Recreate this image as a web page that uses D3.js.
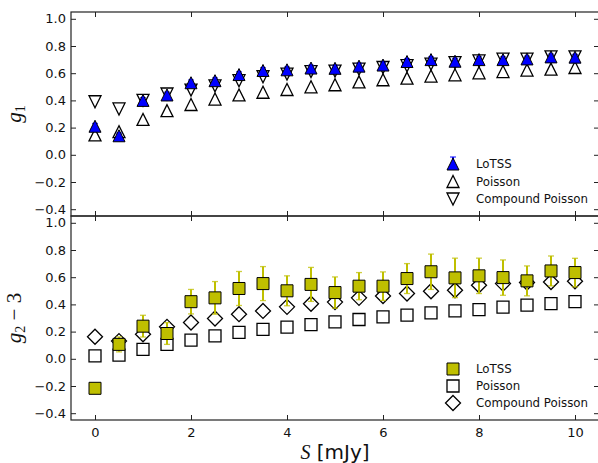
<!DOCTYPE html>
<html><head><meta charset="utf-8">
<script src="https://cdn.jsdelivr.net/npm/d3@7"></script>
<style>body{margin:0;background:#fff}svg{display:block}</style>
</head><body><svg id="c" width="598" height="463"></svg>
<script>
const S = [0,0.5,1,1.5,2,2.5,3,3.5,4,4.5,5,5.5,6,6.5,7,7.5,8,8.5,9,9.5,10];
const g1LoTSS    = [0.21,0.14,0.40,0.44,0.53,0.545,0.59,0.62,0.625,0.638,0.636,0.652,0.66,0.686,0.70,0.688,0.70,0.70,0.705,0.72,0.718];
const g1LoTSSErr = [0.02,0.02,0.02,0.02,0.02,0.02,0.02,0.02,0.02,0.02,0.02,0.02,0.02,0.02,0.02,0.02,0.02,0.02,0.02,0.02,0.02];
const g1Poisson  = [0.146,0.17,0.26,0.325,0.37,0.41,0.44,0.46,0.48,0.50,0.515,0.536,0.552,0.564,0.579,0.588,0.603,0.612,0.623,0.63,0.642];
const g1Compound = [0.39,0.337,0.40,0.447,0.476,0.507,0.545,0.574,0.593,0.612,0.615,0.63,0.642,0.655,0.667,0.678,0.69,0.703,0.703,0.72,0.72];
const g2LoTSS    = [-0.217,0.106,0.24,0.186,0.42,0.448,0.517,0.553,0.50,0.547,0.487,0.534,0.534,0.59,0.64,0.595,0.61,0.597,0.573,0.646,0.634];
const g2LoTSSErr = [0.0,0.055,0.08,0.08,0.09,0.12,0.125,0.125,0.11,0.125,0.115,0.10,0.105,0.11,0.13,0.145,0.13,0.13,0.11,0.11,0.105];
const g2Poisson  = [0.022,0.027,0.069,0.106,0.137,0.169,0.194,0.216,0.233,0.252,0.272,0.289,0.309,0.321,0.338,0.352,0.362,0.38,0.394,0.406,0.42];
const g2Compound = [0.162,0.13,0.18,0.235,0.267,0.296,0.328,0.352,0.382,0.405,0.417,0.448,0.462,0.48,0.497,0.504,0.541,0.553,0.561,0.565,0.57];
const xTicks = [0,2,4,6,8,10];
const yTicks = [-0.4,-0.2,0.0,0.2,0.4,0.6,0.8,1.0];
const legendLabels = ["LoTSS","Poisson","Compound Poisson"];

const svg = d3.select("#c");
const blue = "#0000ff", olive = "#bfbf00";
const L = 71, R = 599;
const x = d3.scaleLinear().domain([-0.5,10.5]).range([L,R]);
const panels = [
  {top:12, bottom:216},
  {top:216, bottom:420}
];
const font = "DejaVu Sans, sans-serif";

function triPath(size, down){
  const h = size/2;
  return down ? `M${-h},${-h}L${h},${-h}L0,${h}Z` : `M0,${-h}L${-h},${h}L${h},${h}Z`;
}
function sqPath(size){const h=size/2;return `M${-h},${-h}H${h}V${h}H${-h}Z`;}
function diaPath(size){const h=size/2;return `M0,${-h}L${h},0L0,${h}L${-h},0Z`;}

function drawPanel(p, i){
  const y = d3.scaleLinear().domain([-0.45,1.05]).range([p.bottom,p.top]);
  const g = svg.append("g");
  const ax = [
    d3.axisLeft(y).tickValues(yTicks).tickSize(-5).tickPadding(5).tickFormat(d3.format(".1f")),
    d3.axisRight(y).tickValues(yTicks).tickSize(-5).tickFormat(""),
  ];
  g.append("g").attr("transform",`translate(${L},0)`).call(ax[0]);
  g.append("g").attr("transform",`translate(${R},0)`).call(ax[1]);
  g.append("g").attr("transform",`translate(0,${p.bottom})`)
    .call(d3.axisBottom(x).tickValues(xTicks).tickSize(-5).tickPadding(8).tickFormat(i===1?d3.format("d"):""));
  g.append("g").attr("transform",`translate(0,${p.top})`)
    .call(d3.axisTop(x).tickValues(xTicks).tickSize(-5).tickFormat(""));
  g.selectAll(".domain").remove();
  g.selectAll(".tick line").attr("stroke","#222").attr("stroke-width",1);
  g.selectAll(".tick text").attr("font-family",font).attr("font-size",13).attr("fill","#111");
  g.append("rect").attr("x",L).attr("y",p.top).attr("width",R-L).attr("height",p.bottom-p.top)
    .attr("fill","none").attr("stroke","#222").attr("stroke-width",1.2);

  const data = i===0
    ? {lot:g1LoTSS, err:g1LoTSSErr, poi:g1Poisson, com:g1Compound}
    : {lot:g2LoTSS, err:g2LoTSSErr, poi:g2Poisson, com:g2Compound};
  const col = i===0 ? blue : olive;
  const lotPath = i===0 ? triPath(12,false) : sqPath(12);
  const poiPath = i===0 ? triPath(12,false) : sqPath(12);
  const comPath = i===0 ? triPath(12,true) : diaPath(15);

  const m = g.append("g");
  m.selectAll(".poi").data(S).enter().append("path")
    .attr("d",poiPath).attr("transform",(d,j)=>`translate(${x(d)},${y(data.poi[j])})`)
    .attr("fill","none").attr("stroke","#000").attr("stroke-width",1.3);
  m.selectAll(".com").data(S).enter().append("path")
    .attr("d",comPath).attr("transform",(d,j)=>`translate(${x(d)},${y(data.com[j])})`)
    .attr("fill","none").attr("stroke","#000").attr("stroke-width",1.3);
  const eb = m.selectAll(".eb").data(S).enter().append("g")
    .attr("transform",(d)=>`translate(${x(d)},0)`);
  eb.append("line").attr("x1",0).attr("x2",0)
    .attr("y1",(d,j)=>y(data.lot[j]+data.err[j])).attr("y2",(d,j)=>y(data.lot[j]-data.err[j]))
    .attr("stroke",col).attr("stroke-width",2);
  eb.each(function(d,j){
    if(data.err[j]<=0) return;
    [1,-1].forEach(s=>{
      d3.select(this).append("line").attr("x1",-3).attr("x2",3)
        .attr("y1",y(data.lot[j]+s*data.err[j])).attr("y2",y(data.lot[j]+s*data.err[j]))
        .attr("stroke",col).attr("stroke-width",1.3).attr("opacity",0.75);
    });
  });
  m.selectAll(".lot").data(S).enter().append("path")
    .attr("d",lotPath).attr("transform",(d,j)=>`translate(${x(d)},${y(data.lot[j])})`)
    .attr("fill",col).attr("stroke","#000").attr("stroke-width",1);

  const ly0 = i===0 ? 164 : 369, dy = i===0 ? 17.5 : 17;
  const lg = g.append("g");
  const paths = [lotPath, poiPath, comPath];
  legendLabels.forEach((t,k)=>{
    const yy = ly0 + k*dy;
    if(k===0 && i===0){
      lg.append("line").attr("x1",453).attr("x2",453).attr("y1",yy-7).attr("y2",yy+3).attr("stroke",col).attr("stroke-width",2);
      lg.append("line").attr("x1",450).attr("x2",456).attr("y1",yy-7).attr("y2",yy-7).attr("stroke",col).attr("stroke-width",1.3).attr("opacity",0.75);
    }
    lg.append("path").attr("d",paths[k]).attr("transform",`translate(453,${yy})`)
      .attr("fill",k===0?col:"none").attr("stroke","#000").attr("stroke-width",k===0?1:1.3);
    lg.append("text").attr("x",476).attr("y",yy+4).attr("font-family",font).attr("font-size",11.8)
      .attr("fill","#111").text(t);
  });
}
panels.forEach(drawPanel);

const yl1 = svg.append("text").attr("transform","translate(21,114) rotate(-90)")
  .attr("text-anchor","middle").attr("font-size",21).attr("fill","#111");
yl1.append("tspan").attr("font-family","Liberation Serif, serif").attr("font-style","italic").text("g");
yl1.append("tspan").attr("font-family","Liberation Serif, serif").attr("font-size",14).attr("dy",4).text("1");

const yl2 = svg.append("text").attr("transform","translate(21,318) rotate(-90)")
  .attr("text-anchor","middle").attr("font-size",21).attr("fill","#111");
yl2.append("tspan").attr("font-family","Liberation Serif, serif").attr("font-style","italic").text("g");
yl2.append("tspan").attr("font-family","Liberation Serif, serif").attr("font-size",14).attr("dy",4).text("2");
yl2.append("tspan").attr("font-family","Liberation Serif, serif").attr("dy",-4).text(" − 3");

const xl = svg.append("text").attr("x",x(5)).attr("y",459).attr("text-anchor","middle")
  .attr("font-size",20).attr("fill","#111");
xl.append("tspan").attr("font-family","Liberation Serif, serif").attr("font-style","italic").text("S");
xl.append("tspan").attr("font-family",font).text(" [mJy]");
</script>
</body></html>
